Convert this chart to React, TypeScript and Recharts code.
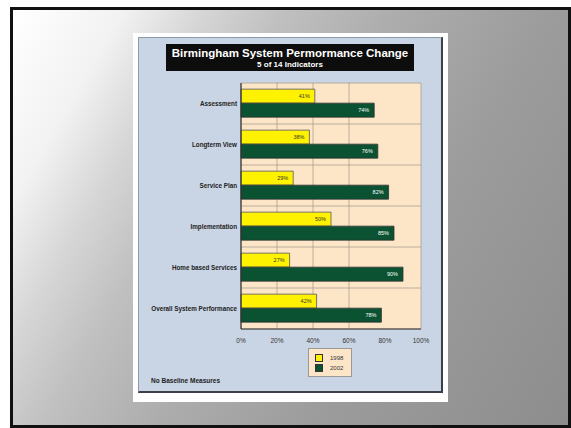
import React from 'react'
import {
  BarChart, Bar, XAxis, YAxis, CartesianGrid, LabelList,
} from 'recharts'

const categories = [
  'Assessment',
  'Longterm View',
  'Service Plan',
  'Implementation',
  'Home based Services',
  'Overall System Performance',
]
const values1998 = [41, 38, 29, 50, 27, 42]
const values2002 = [74, 76, 82, 85, 90, 78]
const xTicks = [0, 20, 40, 60, 80, 100]
const seriesNames = ['1998', '2002']
const seriesColors = ['#fff200', '#0b5232']

const data = categories.map((c, i) => ({ name: c, y1998: values1998[i], y2002: values2002[i] }))

const font = '"Liberation Sans", Arial, sans-serif'

// plain text tick so long category names stay on one line
const CategoryTick = ({ x, y, payload }: any) => (
  <text x={x} y={y} dx={6} dy={2} textAnchor="end" fontSize={6.3} fontWeight="bold" fill="#222" fontFamily={font}>
    {payload.value}
  </text>
)

export default function App() {
  return (
    <div style={{ position: 'fixed', left: 0, top: 0, width: 571, height: 428, background: '#fff', fontFamily: font }}>
      {/* slide frame */}
      <div
        style={{
          position: 'absolute', left: 10, top: 7, width: 561, height: 421, boxSizing: 'border-box',
          border: '3px solid #111',
          background: 'linear-gradient(120deg, #ffffff 0%, #f2f2f2 14%, #d6d6d6 24%, #c0c0c0 34%, #adadad 48%, #9c9c9c 68%, #8d8d8d 100%)',
        }}
      />
      {/* white card */}
      <div style={{ position: 'absolute', left: 133, top: 33, width: 315, height: 369, background: '#fff' }} />
      {/* blue panel */}
      <div
        style={{
          position: 'absolute', left: 138, top: 37, width: 305, height: 356, boxSizing: 'border-box',
          background: '#c9d5e4', borderRight: '2px solid #3a3f48', borderBottom: '2px solid #3a3f48',
          borderLeft: '1px solid #8e9aab', borderTop: '1px solid #8e9aab',
        }}
      />
      {/* title */}
      <div
        style={{
          position: 'absolute', left: 166, top: 44, width: 248, height: 27, background: '#0d0d0d',
          color: '#fff', textAlign: 'center', fontWeight: 'bold',
        }}
      >
        <div style={{ fontSize: 11.5, lineHeight: '13px', marginTop: 3 }}>Birmingham System Permormance Change</div>
        <div style={{ fontSize: 8, lineHeight: '9px' }}>5 of 14 Indicators</div>
      </div>

      <div style={{ position: 'absolute', left: 138, top: 37 }}>
        <BarChart
          width={305}
          height={330}
          data={data}
          layout="vertical"
          margin={{ top: 46, right: 22, left: 0, bottom: 24 }}
          barCategoryGap="15%"
          barGap={0}
        >
          <CartesianGrid
            fill="#fde6c8"
            stroke="#a89e90"
            strokeWidth={0.8}
            horizontalCoordinatesGenerator={({ offset }: any) =>
              categories.map((_, i) => offset.top + (i * offset.height) / categories.length).concat(offset.top + offset.height)
            }
          />
          <XAxis
            type="number"
            domain={[0, 100]}
            ticks={xTicks}
            height={14}
            tickFormatter={(v: number) => `${v}%`}
            tick={{ fontSize: 6.5, fill: '#333', fontFamily: font }}
            axisLine={{ stroke: '#333', strokeWidth: 1.2 }}
            tickLine={false}
            tickMargin={3}
          />
          <YAxis
            type="category"
            dataKey="name"
            width={103}
            tick={<CategoryTick />}
            axisLine={{ stroke: '#333', strokeWidth: 1.2 }}
            tickLine={false}
            tickMargin={4}
            interval={0}
          />
          <Bar dataKey="y1998" fill={seriesColors[0]} stroke="#555" strokeWidth={0.8} isAnimationActive={false}>
            <LabelList dataKey="y1998" position="insideRight" formatter={(v: any) => `${v}%`} style={{ fontSize: 5.5, fill: '#333', fontFamily: font }} />
          </Bar>
          <Bar dataKey="y2002" fill={seriesColors[1]} stroke="#333" strokeWidth={0.8} isAnimationActive={false}>
            <LabelList dataKey="y2002" position="insideRight" formatter={(v: any) => `${v}%`} style={{ fontSize: 5.5, fill: '#fff', fontFamily: font }} />
          </Bar>
        </BarChart>
      </div>

      {/* legend */}
      <div
        style={{
          position: 'absolute', left: 308, top: 348, width: 44, height: 29, boxSizing: 'border-box',
          background: '#fde6c8', border: '1px solid #9a9a9a', padding: '4px 0 0 6px',
        }}
      >
        {seriesNames.map((n, i) => (
          <div key={n} style={{ display: 'flex', alignItems: 'center', height: 10 }}>
            <div style={{ width: 6, height: 6, background: seriesColors[i], border: '1px solid #333', marginRight: 7 }} />
            <span style={{ fontSize: 6, color: '#333' }}>{n}</span>
          </div>
        ))}
      </div>

      <div style={{ position: 'absolute', left: 151, top: 377, fontSize: 6.5, fontWeight: 'bold', color: '#222' }}>
        No Baseline Measures
      </div>
    </div>
  )
}
